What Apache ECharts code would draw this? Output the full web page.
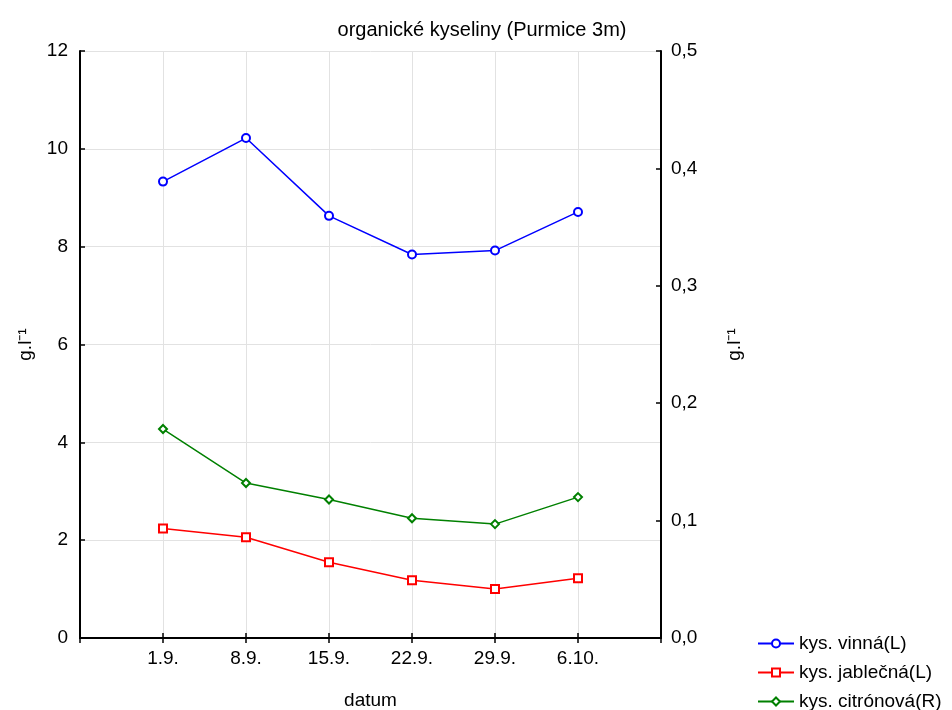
<!DOCTYPE html>
<html>
<head>
<meta charset="utf-8">
<script src="https://cdn.jsdelivr.net/npm/echarts@6/dist/echarts.min.js"></script>
<style>
  html, body { margin: 0; padding: 0; background: #fff; }
  #chart { width: 952px; height: 710px; }
</style>
</head>
<body>
<div id="chart"></div>
<script>
// data
var dates = ['1.9.', '8.9.', '15.9.', '22.9.', '29.9.', '6.10.'];
var vinna = [9.33, 10.22, 8.63, 7.84, 7.92, 8.71];
var jablecna = [2.24, 2.06, 1.55, 1.18, 1.0, 1.22];
var citronova = [0.178, 0.132, 0.118, 0.102, 0.097, 0.12];

// empty slots at both ends so the dates sit one step in from the frame
var cats = [''].concat(dates, ['']);
function pad(arr) { return [null].concat(arr, [null]); }

var font = 'Liberation Sans, Arial, sans-serif';
var fs = 19;
var chart = echarts.init(document.getElementById('chart'));

var xBase = {
  type: 'category',
  data: cats,
  boundaryGap: false,
  axisLine: { show: true, lineStyle: { color: '#000', width: 2 } },
  axisTick: { show: true, inside: true, length: 5, lineStyle: { color: '#000', width: 1.5 } },
  splitLine: { show: false }
};

chart.setOption({
  backgroundColor: '#fff',
  animation: false,
  textStyle: { fontFamily: font, color: '#000' },
  title: {
    text: 'organické kyseliny (Purmice 3m)',
    left: 477, top: 15, textAlign: 'center',
    textStyle: { fontSize: 20, fontWeight: 'normal', color: '#000', fontFamily: font }
  },
  legend: {
    orient: 'vertical',
    left: 752, top: 629, height: 120,
    itemGap: 10, itemWidth: 36, itemHeight: 10,
    textStyle: { fontSize: fs, color: '#000', fontFamily: font },
    data: ['kys. vinná(L)', 'kys. jablečná(L)', 'kys. citrónová(R)']
  },
  grid: { left: 80, right: 291, top: 51, bottom: 72, containLabel: false, outerBoundsMode: 'none' },
  xAxis: [
    Object.assign({}, xBase, {
      position: 'bottom',
      name: 'datum', nameLocation: 'middle', nameGap: 53,
      nameTextStyle: { fontSize: fs, color: '#000', fontFamily: font },
      axisLabel: { fontSize: fs, color: '#000', margin: 11, fontFamily: font },
      splitLine: { show: true, lineStyle: { color: '#e2e2e2', width: 1 } }
    }),
    Object.assign({}, xBase, {
      position: 'top',
      axisLabel: { show: false }
    })
  ],
  yAxis: [
    {
      type: 'value', min: 0, max: 12, interval: 2, position: 'left',
      name: 'g.l⁻¹', nameLocation: 'middle', nameGap: 45, nameRotate: 90,
      nameTextStyle: { fontSize: fs, color: '#000', fontFamily: font },
      axisLine: { show: true, lineStyle: { color: '#000', width: 2 } },
      axisTick: { show: true, inside: true, length: 5, lineStyle: { color: '#000', width: 1.5 } },
      axisLabel: { fontSize: fs, color: '#000', margin: 12, fontFamily: font },
      splitLine: { show: true, lineStyle: { color: '#e2e2e2', width: 1 } }
    },
    {
      type: 'value', min: 0, max: 0.5, interval: 0.1, position: 'right',
      name: 'g.l⁻¹', nameLocation: 'middle', nameGap: 64, nameRotate: 90,
      nameTextStyle: { fontSize: fs, color: '#000', fontFamily: font },
      axisLine: { show: true, lineStyle: { color: '#000', width: 2 } },
      axisTick: { show: true, inside: true, length: 5, lineStyle: { color: '#000', width: 1.5 } },
      axisLabel: {
        fontSize: fs, color: '#000', margin: 10, fontFamily: font,
        formatter: function (v) { return v.toFixed(1).replace('.', ','); }
      },
      splitLine: { show: false }
    }
  ],
  series: [
    {
      name: 'kys. vinná(L)', type: 'line', yAxisIndex: 0,
      data: pad(vinna),
      symbol: 'circle', symbolSize: 8, showAllSymbol: true,
      lineStyle: { color: '#0000ff', width: 1.5 },
      itemStyle: { color: '#fff', borderColor: '#0000ff', borderWidth: 2 }
    },
    {
      name: 'kys. jablečná(L)', type: 'line', yAxisIndex: 0,
      data: pad(jablecna),
      symbol: 'rect', symbolSize: 8, showAllSymbol: true,
      lineStyle: { color: '#ff0000', width: 1.5 },
      itemStyle: { color: '#fff', borderColor: '#ff0000', borderWidth: 2 }
    },
    {
      name: 'kys. citrónová(R)', type: 'line', yAxisIndex: 1,
      data: pad(citronova),
      symbol: 'diamond', symbolSize: 8, showAllSymbol: true,
      lineStyle: { color: '#008000', width: 1.5 },
      itemStyle: { color: '#fff', borderColor: '#008000', borderWidth: 2 }
    }
  ]
});
</script>
</body>
</html>
